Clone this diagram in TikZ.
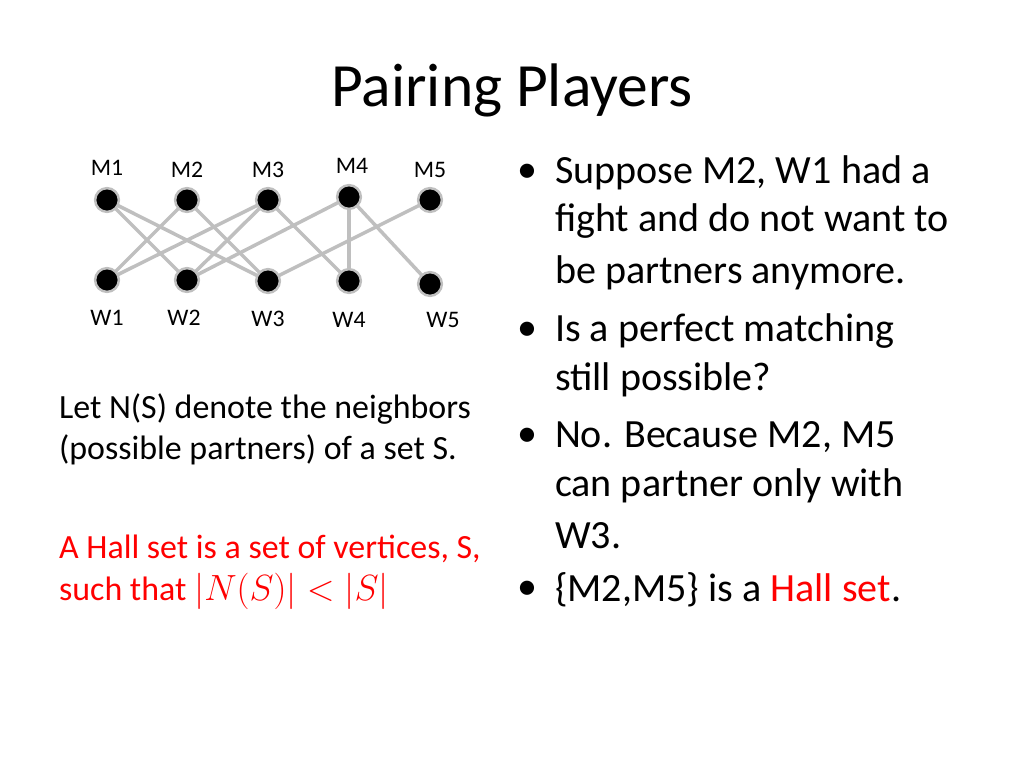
\documentclass[tikz,border=0pt]{standalone}
\usepackage{fontspec}
\setmainfont{Carlito}
\usepackage{amsmath}
\definecolor{edgegray}{RGB}{191,191,191}
\definecolor{hallred}{RGB}{255,0,0}
\tikzset{
  vert/.style={circle, fill=black, draw=edgegray, line width=1.4pt, minimum size=13.5pt, inner sep=0pt},
  vlabel/.style={font=\fontsize{13.5}{16}\selectfont},
  link/.style={draw=edgegray, line width=2pt},
  bline/.style={anchor=west, inner sep=1pt, font=\fontsize{22.8}{26}\selectfont},
  lline/.style={anchor=west, inner sep=1pt, font=\fontsize{19.3}{22}\selectfont}
}
\begin{document}
\begin{tikzpicture}[x=0.02cm, y=-0.02cm]
    \useasboundingbox (0,0) rectangle (1024,768);
    % Title
    \node[font=\fontsize{35}{40}\selectfont] (title) at (512,90) {Pairing Players};

    % Men and women
    \foreach \n/\x/\y/\ly in {1/107/200/168, 2/187/200/170, 3/268/200/170, 4/352/197/166, 5/430/200/170} {
        \node[vlabel] (lm\n) at (\x,\ly) {M\n};
    }
    \foreach \n/\x/\y/\ly in {1/107/280/318, 2/184/280/318, 3/268/281/319, 4/349/281/320, 5/443/284/320} {
        \node[vlabel] (lw\n) at (\x,\ly) {W\n};
    }
    % Edges
    \coordinate (m1) at (107,200); \coordinate (m2) at (187,200);
    \coordinate (m3) at (268,200); \coordinate (m4) at (349,197);
    \coordinate (m5) at (430,200);
    \coordinate (w1) at (107,280); \coordinate (w2) at (187,280);
    \coordinate (w3) at (268,281); \coordinate (w4) at (349,281);
    \coordinate (w5) at (430,284);
    \foreach \a/\b in {m1/w2, m1/w3, m2/w1, m2/w3, m3/w1, m3/w2, m3/w4, m4/w2, m4/w4, m4/w5, m5/w3}
        \draw[link] (\a) -- (\b);
    \foreach \v in {m1,m2,m3,m4,m5,w1,w2,w3,w4,w5}
        \node[vert] (n\v) at (\v) {};

    % Left notes
    \node[lline] (ns1) at (57,409) {Let N(S) denote the neighbors};
    \node[lline] (ns2) at (57,450) {(possible partners) of a set S.};
    \node[lline, text=hallred] (hs1) at (57,549) {A Hall set is a set of vertices, S,};
    \node[lline, text=hallred] (hs2) at (57,591) {such that $|N(S)| < |S|$};

    % Bullets
    \foreach \y in {173,331,437,590}
        \node[bline] at (515,\y) {\textbullet};
    \node[bline] (b1) at (553,173) {Suppose M2, W1 had a};
    \node[bline] (b2) at (553,221) {fight and do not want to};
    \node[bline] (b3) at (553,273) {be partners anymore.};
    \node[bline] (b4) at (553,331) {Is a perfect matching};
    \node[bline] (b5) at (553,380) {still possible?};
    \node[bline] (b6) at (553,437) {No. Because M2, M5};
    \node[bline] (b7) at (553,486) {can partner only with};
    \node[bline] (b8) at (553,536) {W3.};
    \node[bline] (b9) at (553,590) {\{M2,M5\} is a \textcolor{hallred}{Hall set}.};
\end{tikzpicture}
\end{document}
